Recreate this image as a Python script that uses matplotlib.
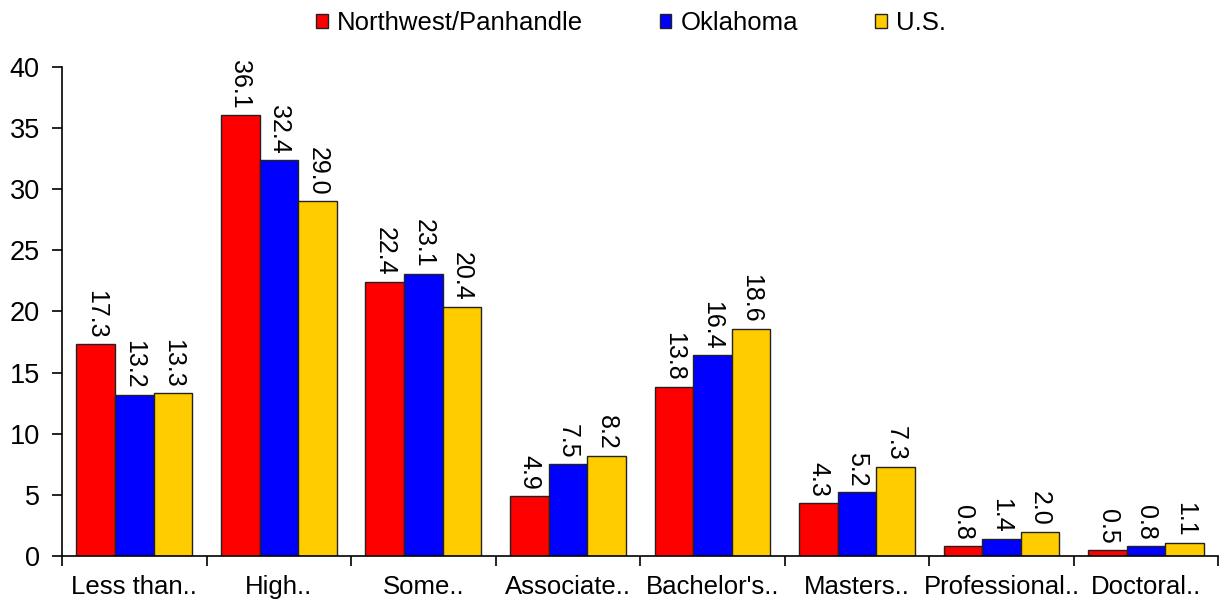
import numpy as np
import matplotlib.pyplot as plt

# education attainment shares (%)
categories = ["Less than..", "High..", "Some..", "Associate..", "Bachelor's..",
              "Masters..", "Professional..", "Doctoral.."]
northwest = [17.3, 36.1, 22.4, 4.9, 13.8, 4.3, 0.8, 0.5]
oklahoma = [13.2, 32.4, 23.1, 7.5, 16.4, 5.2, 1.4, 0.8]
us = [13.3, 29.0, 20.4, 8.2, 18.6, 7.3, 2.0, 1.1]
series_names = ["Northwest/Panhandle", "Oklahoma", "U.S."]
colors = ["#FF0000", "#0000FF", "#FFCC00"]

plt.rcParams['font.family'] = ['Liberation Sans', 'DejaVu Sans']

fig = plt.figure(figsize=(12.25, 6.14), dpi=100)
ax = fig.add_axes([0.0506, 0.0945, 0.944, 0.7965])

x = np.arange(len(categories)) + 0.5
w = 0.267
for k, (vals, name, c) in enumerate(zip([northwest, oklahoma, us], series_names, colors)):
    pos = x + (k - 1) * w
    ax.bar(pos, vals, width=w, color=c, edgecolor="#222222", linewidth=1, label=name)
    for p, v in zip(pos, vals):
        ax.text(p, v + 0.5, f"{v:.1f}", rotation=270, ha="center", va="bottom",
                fontsize=18)

ax.set_xlim(0, len(categories))
ax.set_ylim(0, 40)
ax.set_yticks(np.arange(0, 41, 5))
ax.tick_params(axis="y", labelsize=19.5, length=7, width=1.2, direction="out", pad=9)
ax.set_xticks(x)
ax.set_xticklabels(categories, fontsize=18.5)
ax.tick_params(axis="x", which="major", length=0, pad=14)
ax.set_xticks(np.arange(0, len(categories) + 1), minor=True)
ax.tick_params(axis="x", which="minor", length=7, width=1.2, direction="out")
for s in ["top", "right"]:
    ax.spines[s].set_visible(False)
ax.spines["left"].set_linewidth(1.2)
ax.spines["bottom"].set_linewidth(1.2)

fig.legend(loc="upper center", bbox_to_anchor=(0.515, 1.02), ncol=3, frameon=False,
           fontsize=18.5, handlelength=0.45, handleheight=0.45, handletextpad=0.35,
           columnspacing=3.0)

fig.savefig("out.png", dpi=100)
